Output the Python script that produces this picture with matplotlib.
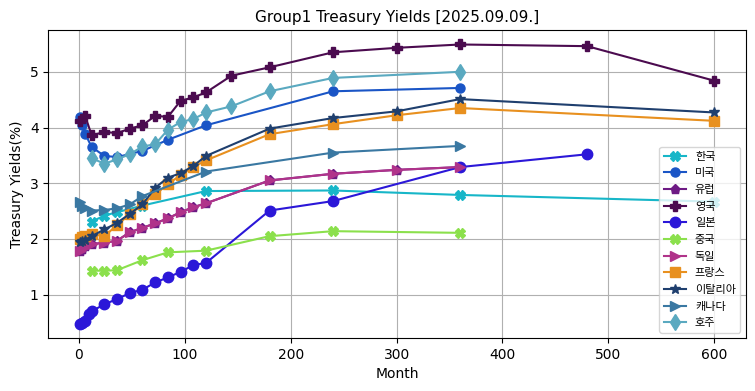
import matplotlib
matplotlib.use("Agg")
import matplotlib.pyplot as plt


# ============================================================
# Data (months -> yield %)
# ============================================================

TITLE = "Group1 Treasury Yields [2025.09.09.]"

KR_M = [12, 24, 36, 60, 120, 240, 360, 600]
KR_Y = [2.31, 2.42, 2.48, 2.60, 2.86, 2.87, 2.79, 2.67]

US_M = [1, 3, 6, 12, 24, 36, 60, 84, 120, 240, 360]
US_Y = [4.19, 4.04, 3.88, 3.65, 3.49, 3.47, 3.58, 3.78, 4.04, 4.65, 4.71]

EU_M = [1, 3, 6, 12, 24, 36, 48, 60, 72, 84, 96, 108, 120, 180, 240, 300, 360]
EU_Y = [1.78, 1.82, 1.87, 1.91, 1.93, 1.97, 2.12, 2.20, 2.28, 2.37, 2.48, 2.57, 2.64,
        3.05, 3.17, 3.24, 3.29]

UK_M = [1, 6, 12, 24, 36, 48, 60, 72, 84, 96, 108, 120, 144, 180, 240, 300, 360, 480, 600]
UK_Y = [4.12, 4.20, 3.86, 3.92, 3.90, 3.98, 4.04, 4.21, 4.19, 4.48, 4.54, 4.63, 4.93,
        5.08, 5.35, 5.43, 5.49, 5.46, 4.84]

JP_M = [1, 3, 6, 9, 12, 24, 36, 48, 60, 72, 84, 96, 108, 120, 180, 240, 360, 480]
JP_Y = [0.47, 0.49, 0.52, 0.65, 0.70, 0.83, 0.92, 1.03, 1.09, 1.22, 1.31, 1.41, 1.53,
        1.57, 2.51, 2.68, 3.29, 3.52]

CN_M = [12, 24, 36, 60, 84, 120, 180, 240, 360]
CN_Y = [1.43, 1.43, 1.44, 1.62, 1.76, 1.79, 2.05, 2.14, 2.11]

DE_M = [1, 3, 6, 12, 24, 36, 48, 60, 72, 84, 96, 108, 120, 180, 240, 300, 360]
DE_Y = [1.78, 1.82, 1.87, 1.91, 1.93, 1.97, 2.12, 2.20, 2.28, 2.37, 2.48, 2.57, 2.64,
        3.05, 3.17, 3.24, 3.29]

FR_M = [1, 3, 6, 12, 24, 36, 48, 60, 72, 84, 96, 108, 120, 180, 240, 300, 360, 600]
FR_Y = [2.00, 2.03, 2.06, 2.09, 2.05, 2.25, 2.44, 2.63, 2.80, 2.98, 3.15, 3.29, 3.41,
        3.88, 4.06, 4.22, 4.35, 4.12]

IT_M = [1, 3, 6, 12, 24, 36, 48, 60, 72, 84, 96, 108, 120, 180, 240, 300, 360, 600]
IT_Y = [1.95, 1.96, 1.99, 2.05, 2.17, 2.29, 2.45, 2.62, 2.92, 3.10, 3.18, 3.31, 3.49,
        3.98, 4.17, 4.29, 4.51, 4.27]

CA_M = [1, 3, 6, 12, 24, 36, 48, 60, 120, 240, 360]
CA_Y = [2.66, 2.60, 2.55, 2.51, 2.52, 2.55, 2.62, 2.77, 3.21, 3.55, 3.67]

AU_M = [12, 24, 36, 48, 60, 72, 84, 96, 108, 120, 144, 180, 240, 360]
AU_Y = [3.45, 3.35, 3.43, 3.52, 3.66, 3.70, 3.96, 4.10, 4.15, 4.27, 4.38, 4.65, 4.89, 5.00]

# (label, months, yields, colour, marker, markersize)
SERIES = [
    ("한국", KR_M, KR_Y, "#17b6c8", "X", 7),
    ("미국", US_M, US_Y, "#1a55c6", "o", 6.5),
    ("유럽", EU_M, EU_Y, "#6e1a84", "p", 6.5),
    ("영국", UK_M, UK_Y, "#4b0b4f", "P", 7.5),
    ("일본", JP_M, JP_Y, "#2b17d8", "o", 7.5),
    ("중국", CN_M, CN_Y, "#8be04c", "X", 7),
    ("독일", DE_M, DE_Y, "#b0338a", ">", 7),
    ("프랑스", FR_M, FR_Y, "#e8901f", "s", 7),
    ("이탈리아", IT_M, IT_Y, "#1f3f6e", "*", 7.5),
    ("캐나다", CA_M, CA_Y, "#3a78a2", ">", 7.5),
    ("호주", AU_M, AU_Y, "#5aa9c0", "d", 8),
]


# ============================================================
# Plot
# ============================================================

plt.rcParams["font.family"] = ["DejaVu Sans", "Noto Sans CJK KR"]

fig, ax = plt.subplots(figsize=(7.55, 3.91), dpi=100)
fig.subplots_adjust(left=0.064, right=0.988, bottom=0.135, top=0.922)

for label, months, yields, color, marker, ms in SERIES:
    ax.plot(months, yields, color=color, marker=marker, markersize=ms,
            linewidth=1.5, label=label)

ax.set_title(TITLE, fontsize=11)
ax.set_xlabel("Month")
ax.set_ylabel("Treasury Yields(%)")
ax.grid(True, color="#b0b0b0", linewidth=0.8)

ax.legend(loc="lower right", fontsize=8, labelspacing=0.6, framealpha=0.8)

plt.savefig("out.png", dpi=100)
plt.close()
